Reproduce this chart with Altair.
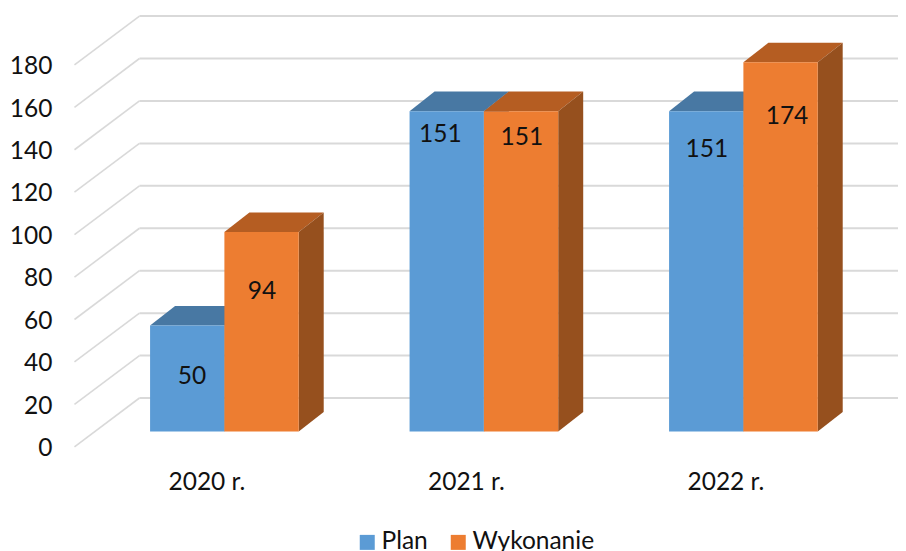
import altair as alt
import pandas as pd

categories = ["2020 r.", "2021 r.", "2022 r."]
series = ["Plan", "Wykonanie"]
plan = [50, 151, 151]
wykonanie = [94, 151, 174]
y_ticks = list(range(0, 181, 20))

# value-label anchors (category units, value units)
label_x = [-0.125, 0.145, 0.832, 1.146, 1.859, 2.168]
label_y = [25.7, 65.8, 139.8, 138.4, 132.7, 148.2]

front_colors = ["#5B9BD5", "#ED7D31"]
top_colors = ["#4878A3", "#B55D22"]
side_colors = ["#44719B", "#96501E"]
grid_color = "#D9D9D9"
text_color = "#111111"
font = "Lato"
fs = 24.5

# oblique projection, in axis units
bar_w = 0.2864
depth_x = 25 / 259.5
depth_y = 9.2
wall_back_y = 15.8
wall_front_y = -7.2
wall_back_x = -0.3272
wall_front_x = -0.5777
x_dom = [-0.8339, 2.5958]
y_dom = [-56.3, 199.6]

x_s = alt.Scale(domain=x_dom, range=[0, 890], nice=False, zero=False)
y_s = alt.Scale(domain=y_dom, range=[543, 0], nice=False, zero=False)

cat_expr = "[" + ",".join(f"'{c}'" for c in categories) + "][datum.value]"
x_axis = alt.Axis(
    values=[0, 1, 2], orient="bottom", domain=False, ticks=False, grid=False, title=None,
    labelExpr=cat_expr, labelOffset=-18, offset=-81, labelPadding=0,
    labelFont=font, labelFontSize=fs, labelColor=text_color, labelBaseline="top",
    labelOverlap=False, labelFlush=False)
y_axis = alt.Axis(
    values=y_ticks, orient="left", domain=False, ticks=False, grid=False, title=None,
    format="d", labelOffset=17, offset=-44, labelPadding=0,
    labelFont=font, labelFontSize=fs, labelColor=text_color, labelOverlap=False)

bars = []
for si, (name, vals) in enumerate(zip(series, [plan, wykonanie])):
    for ci, v in enumerate(vals):
        x0 = ci + (si - 1) * bar_w
        bars.append(dict(series=name, si=si, id=f"{si}-{ci}", v=v, x0=x0, x1=x0 + bar_w))
bars = pd.DataFrame(bars)

top_rows, side_rows = [], []
for r in bars.to_dict("records"):
    top_rows += [
        dict(si=r["si"], id=r["id"], y=r["v"], a=r["x0"], b=r["x1"]),
        dict(si=r["si"], id=r["id"], y=r["v"] + depth_y, a=r["x0"] + depth_x, b=r["x1"] + depth_x),
    ]
    side_rows += [
        dict(si=r["si"], id=r["id"], x=r["x1"], y0=0, y1=r["v"]),
        dict(si=r["si"], id=r["id"], x=r["x1"] + depth_x, y0=depth_y, y1=r["v"] + depth_y),
    ]
top_df = pd.DataFrame(top_rows)
side_df = pd.DataFrame(side_rows)

grid_df = pd.DataFrame({"t": y_ticks})
grid_df["yb"] = grid_df.t + wall_back_y
grid_df["yf"] = grid_df.t + wall_front_y
grid_df["xb"] = wall_back_x
grid_df["xf"] = wall_front_x
grid_df["xr"] = x_dom[1]

X = lambda f: alt.X(f, type="quantitative", scale=x_s, axis=x_axis)
Y = lambda f: alt.Y(f, type="quantitative", scale=y_s, axis=y_axis)

base = alt.Chart(grid_df).mark_rule(color=grid_color, strokeWidth=2).encode(
    x=X("xb"), x2="xr:Q", y=Y("yb"))
diag = alt.Chart(grid_df).mark_rule(color=grid_color, strokeWidth=1.6).encode(
    x=X("xf"), x2="xb:Q", y=Y("yf"), y2="yb:Q")

layers = [base, diag]
for si in range(2):
    layers.append(
        alt.Chart(top_df[top_df.si == si]).mark_area(orient="horizontal", color=top_colors[si], opacity=1).encode(
            x=X("a"), x2="b:Q", y=Y("y"), detail="id:N"))
    layers.append(
        alt.Chart(side_df[side_df.si == si]).mark_area(orient="vertical", color=side_colors[si], opacity=1).encode(
            x=X("x"), y=Y("y0"), y2="y1:Q", detail="id:N"))

front = alt.Chart(bars.assign(zero=0)).mark_rect().encode(
    x=X("x0"), x2="x1:Q", y=Y("zero"), y2="v:Q",
    color=alt.Color("series:N", scale=alt.Scale(domain=series, range=front_colors), legend=alt.Legend(
        orient="none", legendX=347, legendY=522, direction="horizontal", title=None,
        symbolType="square", symbolSize=225, symbolStrokeWidth=0, symbolOpacity=1,
        labelFont=font, labelFontSize=fs, labelColor=text_color, labelOffset=2,
        columnPadding=18, labelLimit=300)),
)
layers.append(front)

lab_vals = [plan[0], wykonanie[0], plan[1], wykonanie[1], plan[2], wykonanie[2]]
lab_df = pd.DataFrame({"x": label_x, "y": label_y, "t": lab_vals})
layers.append(alt.Chart(lab_df).mark_text(font=font, fontSize=fs, color=text_color, baseline="middle").encode(
    x=X("x"), y=Y("y"), text="t:Q"))

chart = alt.layer(*layers).properties(
    width=890, height=543, autosize="none", padding=0, background="white"
).configure_view(stroke=None)

chart.save("out.html", embed_options={"renderer": "svg", "actions": False})
